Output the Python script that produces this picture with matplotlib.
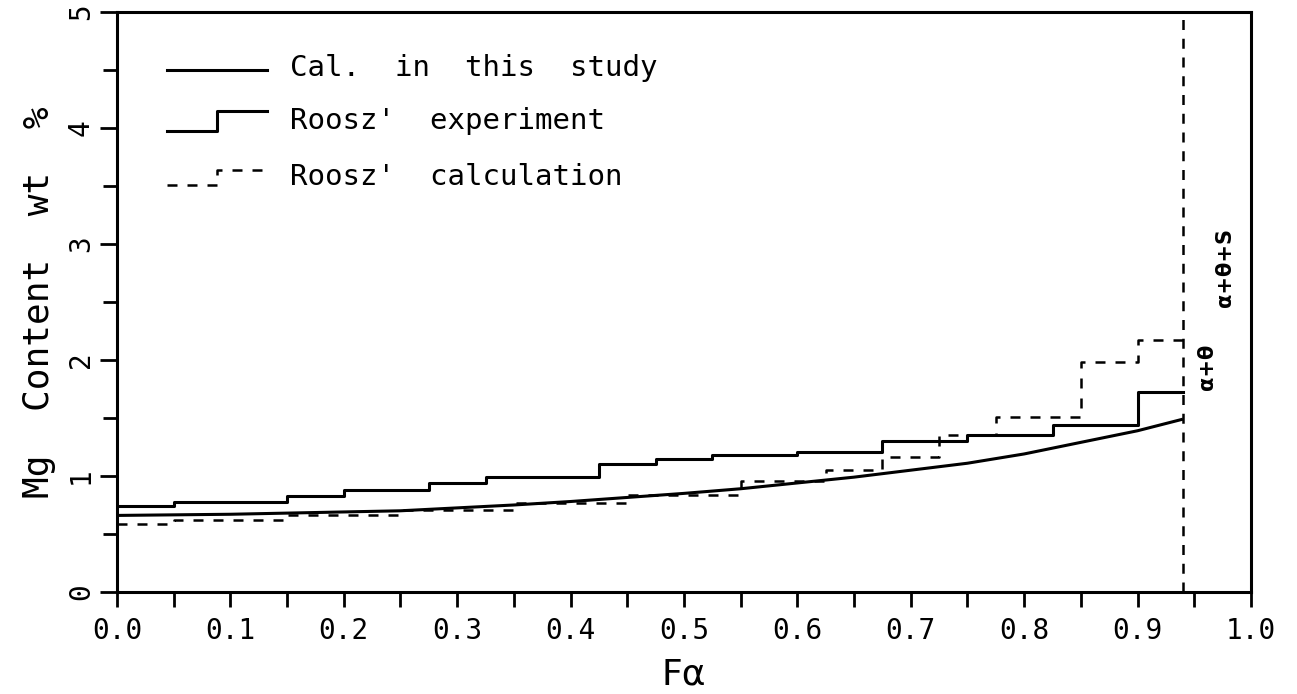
import matplotlib
matplotlib.use("Agg")
import matplotlib.pyplot as plt
import numpy as np

# Cal. in this study (smooth curve)
cal_x = [0.0, 0.05, 0.1, 0.15, 0.2, 0.25, 0.3, 0.35, 0.4, 0.45, 0.5,
         0.55, 0.6, 0.65, 0.7, 0.75, 0.8, 0.85, 0.9, 0.94]
cal_y = [0.66, 0.665, 0.67, 0.68, 0.69, 0.70, 0.725, 0.75, 0.78, 0.815, 0.85,
         0.89, 0.94, 0.99, 1.05, 1.11, 1.19, 1.29, 1.39, 1.49]

# Roosz' experiment (staircase)
exp_edges = [0.0, 0.05, 0.15, 0.2, 0.275, 0.325, 0.425, 0.475, 0.525,
             0.6, 0.675, 0.75, 0.825, 0.9, 0.94]
exp_vals = [0.74, 0.78, 0.83, 0.88, 0.94, 0.99, 1.10, 1.15, 1.18,
            1.21, 1.30, 1.35, 1.44, 1.72]

# Roosz' calculation (dashed staircase)
calc_edges = [0.0, 0.05, 0.15, 0.25, 0.35, 0.45, 0.55, 0.625, 0.675,
              0.725, 0.775, 0.85, 0.9, 0.94]
calc_vals = [0.59, 0.62, 0.665, 0.705, 0.77, 0.835, 0.96, 1.05, 1.16,
             1.35, 1.51, 1.98, 2.17]

f_limit = 0.94
x_ticks = [0.0, 0.1, 0.2, 0.3, 0.4, 0.5, 0.6, 0.7, 0.8, 0.9, 1.0]
y_ticks = [0, 1, 2, 3, 4, 5]

MONO = 'DejaVu Sans Mono'

fig = plt.figure(figsize=(12.97, 6.94), dpi=100)
ax = fig.add_axes([0.0902, 0.1470, 0.8743, 0.8357])

ax.plot(cal_x, cal_y, color='black', lw=2.2, solid_capstyle='butt')
ax.step(exp_edges, exp_vals + [exp_vals[-1]], where='post', color='black', lw=2.2)
ax.step(calc_edges, calc_vals + [calc_vals[-1]], where='post', color='black',
        lw=1.8, dashes=(4, 4))
ax.axvline(f_limit, color='black', lw=1.8, dashes=(4, 3.5))

# phase region labels
ax.text(0.961, 1.94, 'α+θ', rotation=90, ha='center', va='center',
        fontsize=15, fontweight='bold')
ax.text(0.977, 2.80, 'α+θ+S', rotation=90, ha='center', va='center',
        fontsize=15, fontweight='bold')

# hand-drawn legend
lx0, lxm, lx1, ltx = 0.044, 0.088, 0.132, 0.153
ax.plot([lx0, lx1], [4.50, 4.50], color='black', lw=2.2)
ax.plot([lx0, lxm, lxm, lx1], [3.97, 3.97, 4.15, 4.15], color='black', lw=2.2)
ax.plot([lx0, lxm, lxm, lx1], [3.51, 3.51, 3.64, 3.64], color='black', lw=1.8,
        dashes=(4, 4))
ax.text(ltx, 4.52, "Cal.  in  this  study", fontsize=21, va='center', family=MONO)
ax.text(ltx, 4.06, "Roosz'  experiment", fontsize=21, va='center', family=MONO)
ax.text(ltx, 3.58, "Roosz'  calculation", fontsize=21, va='center', family=MONO)

ax.set_xlim(0, 1.0)
ax.set_ylim(0, 5)
ax.set_xticks(x_ticks)
ax.set_xticklabels([f"{v:.1f}" for v in x_ticks], fontsize=20, family=MONO)
ax.set_xticks(np.arange(0.05, 1.0, 0.1), minor=True)
ax.set_yticks(y_ticks)
ax.set_yticklabels([str(v) for v in y_ticks], fontsize=20, rotation=90,
                   va='center', family=MONO)
ax.set_yticks(np.arange(0.5, 5.0, 1.0), minor=True)

ax.tick_params(which='both', direction='out', width=2, top=False, right=False)
ax.tick_params(axis='x', which='both', length=11, pad=7)
ax.tick_params(axis='y', which='major', length=12, pad=4)
ax.tick_params(axis='y', which='minor', length=10)
for s in ax.spines.values():
    s.set_linewidth(2.2)

ax.set_xlabel('Fα', fontsize=26, labelpad=9)
ax.set_ylabel('Mg  Content  wt  %', fontsize=26, labelpad=8, family=MONO)

fig.savefig('out.png', dpi=100)
